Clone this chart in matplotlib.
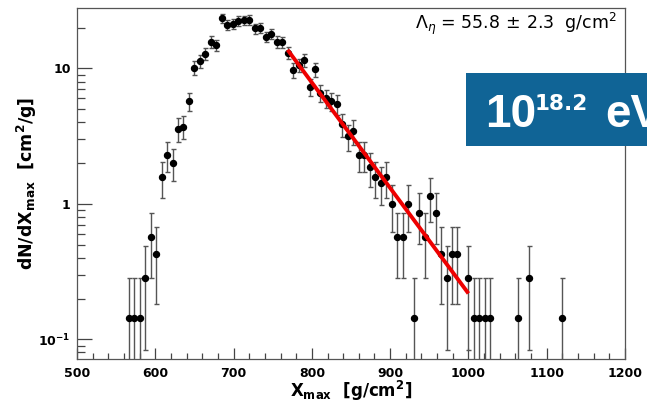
import numpy as np
import matplotlib
matplotlib.use("Agg")
import matplotlib.pyplot as plt
from matplotlib.patches import Rectangle
from matplotlib.ticker import MultipleLocator, LogLocator, NullFormatter

# ---- data ----
bin_width = 7.0
x_centers = [566, 573, 580, 587, 594, 601, 608, 615, 622, 629, 636, 643, 650, 657,
             664, 671, 678, 685, 692, 699, 706, 713, 720, 727, 734, 741, 748, 755,
             762, 769, 776, 783, 790, 797, 804, 811, 818, 825, 832, 839, 846, 853,
             860, 867, 874, 881, 888, 895, 902, 909, 916, 923, 930, 937, 944, 951,
             958, 965, 972, 979, 986, 1000, 1007, 1014, 1021, 1028, 1063, 1077, 1119]
counts = [1, 1, 1, 2, 4, 3, 11, 16, 14, 25, 26, 40, 71, 79,
          90, 110, 104, 164, 146, 149, 157, 158, 160, 138, 139, 120, 126, 110,
          109, 91, 68, 74, 81, 51, 69, 46, 42, 40, 38, 27, 22, 24,
          16, 16, 13, 11, 10, 11, 7, 4, 4, 7, 1, 6, 4, 8,
          6, 3, 2, 3, 3, 2, 1, 1, 1, 1, 1, 2, 1]

fit_lambda = 55.8
fit_lambda_err = 2.3
fit_x_start = 769
fit_x_end = 1000
fit_value_at_start = 13.7

x_ticks = [500, 600, 700, 800, 900, 1000, 1100, 1200]
x_ticklabels = ['500', '600', '700', '800', '900', '1000', '1100', '1200']
y_ticks = [0.1, 1, 10]
y_ticklabels = [r'$\mathbf{10}^{\mathbf{-1}}$', '1', '10']

# ---- derived ----
x = np.array(x_centers, dtype=float)
n = np.array(counts, dtype=float)
y = n / bin_width
yerr = np.sqrt(n) / bin_width

W, H = 647, 403
fig = plt.figure(figsize=(W / 100, H / 100), dpi=100)
ax = fig.add_axes([77 / W, 1 - 359 / H, (625 - 77) / W, (359 - 8) / H])

ax.errorbar(x, y, yerr=yerr, fmt='o', color='black', ms=4.3,
            ecolor='#555555', elinewidth=1.0, capsize=1.8, capthick=1.0, zorder=3)

xf = np.linspace(fit_x_start, fit_x_end, 100)
yf = fit_value_at_start * np.exp(-(xf - fit_x_start) / fit_lambda)
ax.plot(xf, yf, color='#ee0000', lw=2.8, zorder=4, solid_capstyle='butt')

ax.set_yscale('log')
ax.set_xlim(500, 1200)
ax.set_ylim(0.0716, 27.9)

ax.set_xticks(x_ticks, labels=x_ticklabels, fontweight='bold',
              family='DejaVu Sans', fontsize=9)
ax.xaxis.set_minor_locator(MultipleLocator(20))
ax.set_yticks(y_ticks, labels=y_ticklabels, fontweight='bold',
              family='DejaVu Sans', fontsize=9)
ax.yaxis.set_minor_locator(LogLocator(base=10, subs=np.arange(2, 10)))
ax.yaxis.set_minor_formatter(NullFormatter())
ax.set_xlim(500, 1200)
ax.set_ylim(0.0716, 27.9)

ax.tick_params(axis='x', which='major', direction='in', length=7.7, width=0.9,
               color='#444444', pad=5.5, top=False)
ax.tick_params(axis='x', which='minor', direction='in', length=4.0, width=0.9,
               color='#444444', top=False)
ax.tick_params(axis='y', which='major', direction='in', length=10.5, width=0.9,
               color='#444444', pad=4.5, right=False)
ax.tick_params(axis='y', which='minor', direction='in', length=5.5, width=0.9,
               color='#444444', right=False)
for s in ax.spines.values():
    s.set_color('#555555')
    s.set_linewidth(0.9)

# axis titles
fig.text(351 / W, 1 - 397 / H, r'$\mathbf{X_{max}}$  [g/cm$^{\mathbf{2}}$]',
         ha='center', va='baseline', fontsize=12, fontweight='bold',
         family='DejaVu Sans')
fig.text(27 / W, 1 - 183.5 / H, r'$\mathbf{dN/dX_{max}}$  [cm$^{\mathbf{2}}$/g]',
         ha='center', va='center', rotation=90, fontsize=12.5, fontweight='bold',
         family='DejaVu Sans')

# fit result
ax.text(0.985, 0.955,
        r'$\Lambda_{\eta}$ = 55.8$\,\pm\,$2.3  g/cm$^{2}$',
        transform=ax.transAxes, ha='right', va='center', fontsize=12.5,
        family='DejaVu Sans')

# energy box
box = Rectangle((465.7 / W, 1 - 145.7 / H), 1.0, (145.7 - 73.3) / H,
                transform=fig.transFigure, facecolor='#106496', edgecolor='none',
                zorder=10)
fig.patches.append(box)
fig.text(485 / W, 1 - 127 / H, '10', color='white', fontsize=33,
         fontweight='bold', family='Liberation Sans', ha='left', va='baseline',
         zorder=11)
fig.text(535 / W, 1 - 110 / H, '18.2', color='white', fontsize=15.5,
         fontweight='bold', family='DejaVu Sans', ha='left', va='baseline',
         zorder=11)
fig.text(605 / W, 1 - 127 / H, 'eV', color='white', fontsize=33,
         fontweight='bold', family='Liberation Sans', ha='left', va='baseline',
         zorder=11)

fig.savefig('out.png', dpi=100)
